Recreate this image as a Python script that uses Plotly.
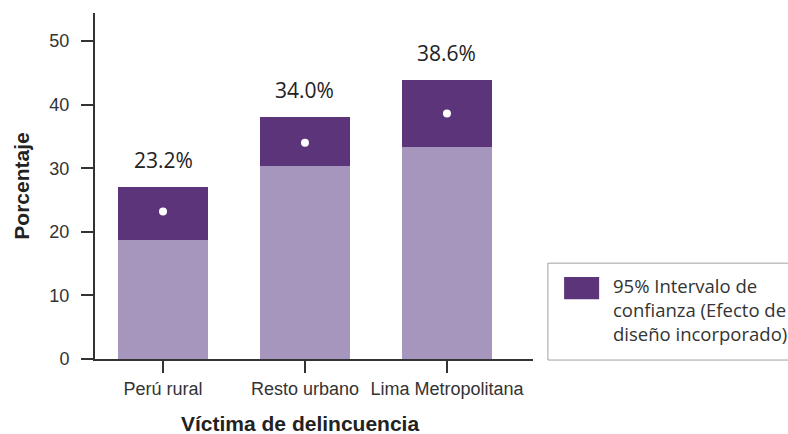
import plotly.graph_objects as go

categories = ["Perú rural", "Resto urbano", "Lima Metropolitana"]
estimate = [23.2, 34.0, 38.6]
ci_lower = [18.7, 30.3, 33.4]
ci_upper = [27.0, 38.0, 43.8]
y_ticks = [0, 10, 20, 30, 40, 50]
x_title = "Víctima de delincuencia"
y_title = "Porcentaje"
legend_label = "95% Intervalo de<br>confianza (Efecto de<br>diseño incorporado)"

LIGHT = "#A696BD"
DARK = "#5B3479"
AXIS = "#333333"
TICKF = "Liberation Sans, Arial, sans-serif"
BOLD = "Liberation Sans, Arial, sans-serif"
SEGOE = "Open Sans, Noto Sans, sans-serif"

x_idx = list(range(len(categories)))
ci_height = [u - l for u, l in zip(ci_upper, ci_lower)]

fig = go.Figure()
fig.add_trace(go.Bar(x=x_idx, y=ci_lower, marker=dict(color=LIGHT, line=dict(width=0)),
                     width=0.64, showlegend=False, hoverinfo="skip"))
fig.add_trace(go.Bar(x=x_idx, y=ci_height, base=ci_lower, marker=dict(color=DARK, line=dict(width=0)),
                     width=0.64, showlegend=False, name="95% Intervalo de confianza"))
fig.add_trace(go.Scatter(x=x_idx, y=estimate, mode="markers",
                         marker=dict(color="white", size=8), showlegend=False))

for i, (u, e) in enumerate(zip(ci_upper, estimate)):
    fig.add_annotation(x=i, y=u, text=f"{e:.1f}%", showarrow=False, yanchor="bottom",
                       yshift=11, font=dict(family=SEGOE, size=21, color="#222222"))

# x-axis title (offset left of plot centre, as in the reference)
fig.add_annotation(xref="paper", yref="paper", x=0.468, y=0, yanchor="middle", yshift=-64,
                   text=f"<b>{x_title}</b>", showarrow=False,
                   font=dict(family=BOLD, size=21, color="#222222"))

# legend box
fig.add_shape(type="rect", xref="paper", yref="paper", x0=1.034, x1=1.6, y0=-0.003, y1=0.277,
              line=dict(color="#A0A0A0", width=1), fillcolor="white", layer="below")
fig.add_shape(type="rect", xref="paper", yref="paper", x0=1.071, x1=1.151, y0=0.173, y1=0.237,
              line=dict(width=0), fillcolor=DARK)
fig.add_annotation(xref="paper", yref="paper", x=1.177, y=0.255, xanchor="left", yanchor="top",
                   text=legend_label, showarrow=False, align="left",
                   font=dict(family=SEGOE, size=18.5, color="#333333"))

fig.update_layout(
    width=788, height=434,
    margin=dict(l=95, r=255, t=13, b=75),
    plot_bgcolor="white", paper_bgcolor="white",
    barmode="overlay", bargap=0,
    showlegend=False,
)
fig.update_xaxes(
    automargin=False,
    tickmode="array", tickvals=x_idx, ticktext=categories,
    range=[-0.479, 2.606], showline=True, linecolor=AXIS, linewidth=2,
    ticks="outside", ticklen=12, tickcolor=AXIS, tickwidth=1.5,
    showgrid=False, zeroline=False,
    tickfont=dict(family=TICKF, size=18, color="#333333"),
)
fig.update_yaxes(
    automargin=False,
    range=[0, 54.4], tickmode="array", tickvals=y_ticks,
    showline=True, linecolor=AXIS, linewidth=2,
    ticks="outside", ticklen=12, tickcolor=AXIS, tickwidth=1.5,
    ticklabelstandoff=8,
    showgrid=False, zeroline=False,
    tickfont=dict(family=TICKF, size=18, color="#333333"),
    title=dict(text=f"<b>{y_title}</b>", font=dict(family=BOLD, size=21, color="#222222"),
               standoff=14),
)

fig.write_html("out.html", config={"displayModeBar": False},
               post_script="document.body.style.margin='0';document.body.style.overflow='hidden';")
